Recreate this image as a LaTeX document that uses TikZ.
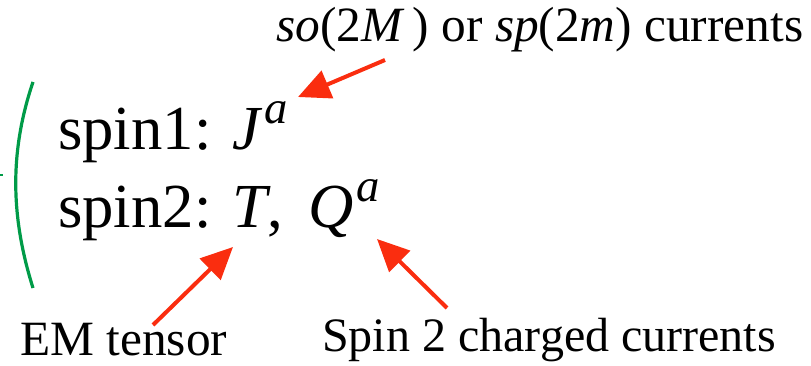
\documentclass[tikz,border=0pt]{standalone}
\usepackage{fontspec}
\setmainfont{Liberation Serif}
\usetikzlibrary{arrows.meta,positioning}
\definecolor{arrowred}{RGB}{250,45,15}
\definecolor{bracegreen}{RGB}{0,155,72}
\newcommand{\supa}{\kern1.5pt\raisebox{0.42em}{\fontsize{35}{35}\selectfont\textit{a}}}
\tikzset{
  bigline/.style={anchor=base west,inner sep=0pt,font=\fontsize{47}{56}\selectfont},
  note/.style={anchor=base west,inner sep=0pt,text depth=0pt,font=\fontsize{37}{44}\selectfont},
  redarrow/.style={draw=arrowred,line width=3pt,
    -{Triangle[length=24pt,width=22pt,fill=arrowred]}},
  greenbrace/.style={draw=bracegreen,line width=2.4pt}
}
\begin{document}
\begin{tikzpicture}[x=0.75pt,y=-0.75pt]
  \useasboundingbox (0,0) rectangle (811,366);
  % the two lines of currents
  \node[bigline] (spinone) at (58,150) {spin1: \textit{J}\supa};
  \node[bigline] (spintwo) at (58,228) {spin2: \textit{T}, \,\textit{Q}\supa};
  % green bracket in front of them
  \draw[greenbrace] (33,82) .. controls (10,150) and (10,215) .. (33,288);
  \draw[greenbrace,line width=1pt] (0,175) -- (2.5,175);
  % labels
  \node[note] (currents) at (276,42) {\textit{so}(2\textit{M}\,) or \textit{sp}(2\textit{m}) currents};
  \node[note] (emtensor) at (20,356) {EM tensor};
  \node[note,font=\fontsize{36}{44}\selectfont] (charged) at (322,352) {Spin 2 charged currents};
  % arrow ends
  \coordinate (Jtail) at (385,60);
  \coordinate (Jtip) at (298,97);
  \coordinate (Ttail) at (153,325);
  \coordinate (Ttip) at (233,247);
  \coordinate (Qtail) at (447,308);
  \coordinate (Qtip) at (377,239);
  \draw[redarrow] (Jtail) -- (Jtip);
  \draw[redarrow] (Ttail) -- (Ttip);
  \draw[redarrow] (Qtail) -- (Qtip);
\end{tikzpicture}
\end{document}
